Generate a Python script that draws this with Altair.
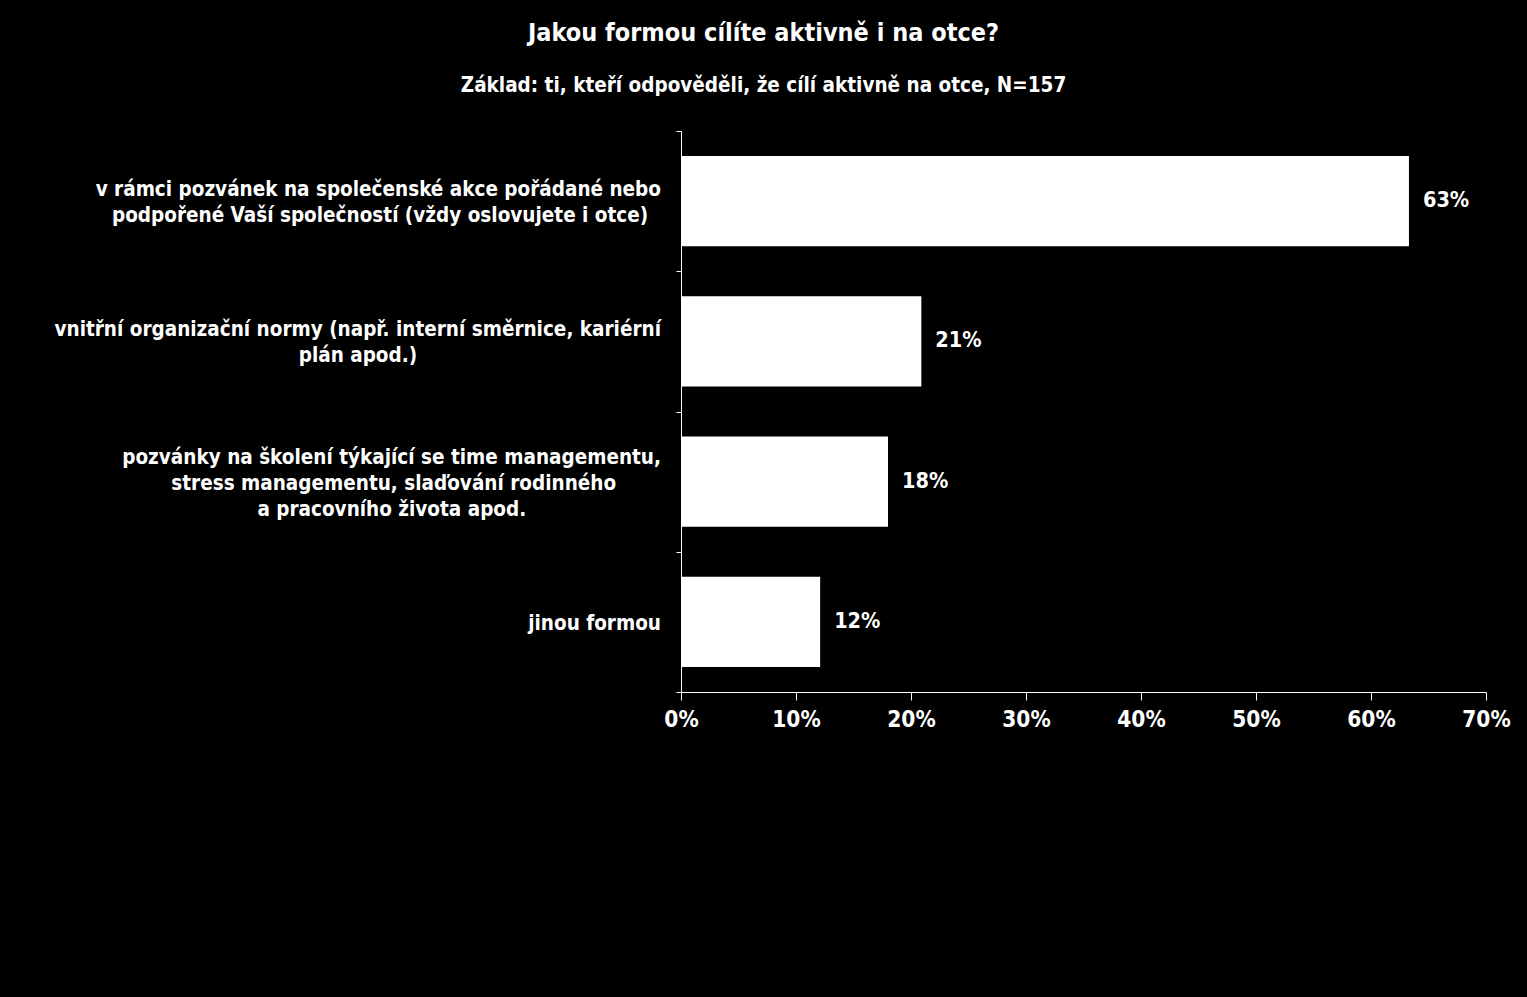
import altair as alt
import pandas as pd

# ---- data ----
label_lines = [
    ["v rámci pozvánek na společenské akce pořádané nebo",
     "podpořené Vaší společností (vždy oslovujete i otce)"],
    ["vnitřní organizační normy (např. interní směrnice, kariérní",
     "plán apod.)"],
    ["pozvánky na školení týkající se time managementu,",
     "stress managementu, slaďování rodinného",
     "a pracovního života apod."],
    ["jinou formou"],
]
values = [63.3, 20.9, 18.0, 12.1]
value_labels = ["63%", "21%", "18%", "12%"]
x_ticks = [0, 10, 20, 30, 40, 50, 60, 70]
title_text = "Jakou formou cílíte aktivně i na otce?"
subtitle_text = "Základ: ti, kteří odpověděli, že cílí aktivně na otce, N=157"

# ---- layout / style: trailing no-break spaces (closed by a zero-width space so
# they are not trimmed) make each line sit centred inside its right-aligned block ----
NB = "\u00a0"
ZW = "\u200b"
line_pad = [[0, 2], [0, 38], [0, 7, 21], [0]]
categories = [
    "|".join(line + (NB * n + ZW if n else "") for line, n in zip(lines, pads))
    for lines, pads in zip(label_lines, line_pad)
]

df = pd.DataFrame({"cat": categories, "val": values, "lab": value_labels})

FONT = "DejaVu Sans Condensed, DejaVu Sans, sans-serif"
WHITE = "#ffffff"
LH = 26

y_scale = alt.Scale(paddingInner=0, paddingOuter=0)

y_enc = alt.Y(
    "cat:N",
    sort=categories,
    scale=y_scale,
    axis=alt.Axis(
        title=None,
        labels=False,
        tickBand="extent",
        tickSize=5,
        tickColor=WHITE,
        domainColor=WHITE,
        grid=False,
    ),
)

x_enc = alt.X(
    "val:Q",
    scale=alt.Scale(domain=[0, 70], nice=False),
    axis=alt.Axis(
        title=None,
        values=x_ticks,
        labelExpr="datum.value + '%'",
        labelFontSize=22.5,
        labelFontWeight="bold",
        labelFont=FONT,
        labelColor=WHITE,
        labelPadding=8,
        labelFlush=False,
        tickSize=8,
        tickColor=WHITE,
        domainColor=WHITE,
        grid=False,
    ),
)

bars = alt.Chart(df).mark_bar(
    color=WHITE, height=alt.RelativeBandSize(0.642)
).encode(x=x_enc, y=y_enc)

texts = alt.Chart(df).mark_text(
    align="left", baseline="middle", dx=14, fontSize=21.5, fontWeight="bold",
    font=FONT, color=WHITE
).encode(x="val:Q", y=alt.Y("cat:N", sort=categories), text="lab:N")

label_base = alt.Chart(df).transform_calculate(
    lines="split(datum.cat, '|')"
).transform_calculate(n="length(datum.lines)")

label_layers = [
    label_base.transform_filter(f"datum.n == {k}").mark_text(
        align="right", baseline="middle", dy=2 - (k - 1) * LH / 2, lineHeight=LH,
        fontSize=20.5, fontWeight="bold", font=FONT, color=WHITE
    ).encode(
        x=alt.value(-20),
        y=alt.Y("cat:N", sort=categories),
        text="lines:N",
    )
    for k in (1, 2, 3)
]

chart = alt.layer(bars, texts, *label_layers).properties(
    width=805,
    height=561,
    padding={"left": 681, "top": 131, "right": 41, "bottom": 305},
    autosize=alt.AutoSizeParams(type="none"),
    background="#000000",
    title=alt.TitleParams(
        text=title_text,
        subtitle=subtitle_text,
        anchor="middle",
        dx=-320,
        fontSize=25,
        fontWeight="bold",
        font=FONT,
        color=WHITE,
        subtitleFontSize=20.5,
        subtitleFontWeight="bold",
        subtitleFont=FONT,
        subtitleColor=WHITE,
        subtitlePadding=30,
        offset=34,
    ),
).configure_view(stroke=None)

chart.save("out.html", embed_options={"renderer": "svg", "actions": False})
